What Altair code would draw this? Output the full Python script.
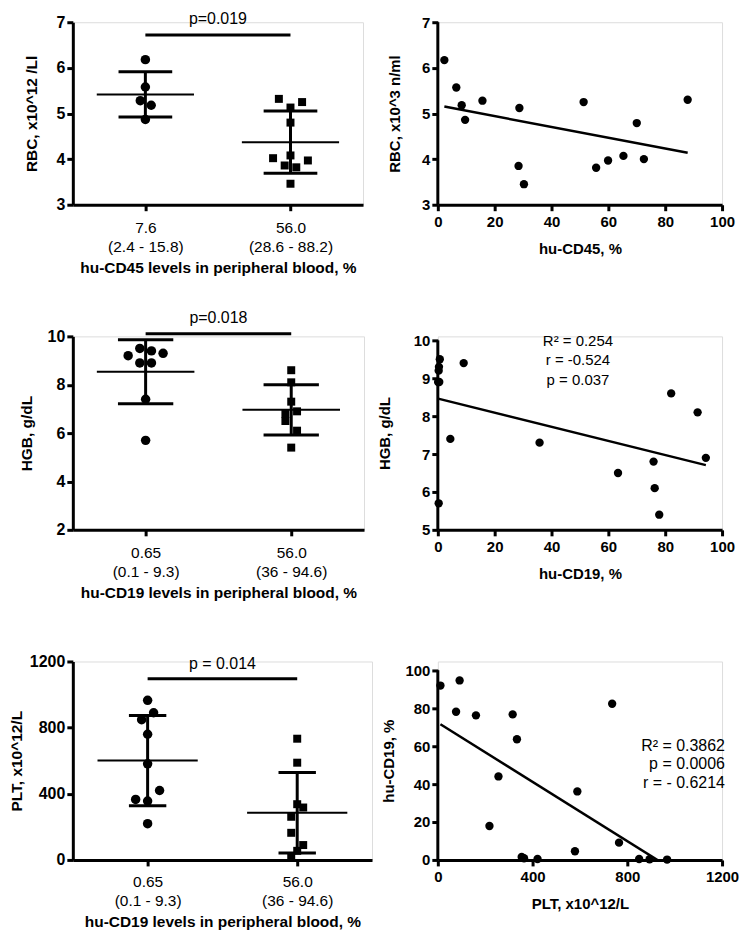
import json
import altair as alt
import pandas as pd

FONT = "Liberation Sans"
INK = "#000000"

# ---------------- data ----------------
# A: RBC by hu-CD45 group (mean +/- SD dot plot)
rbc_low = [6.18, 5.58, 5.28, 5.18, 4.87]
rbc_low_jit = [0.0, 0.0, -0.07, 0.08, 0.0]
rbc_high = [5.32, 5.25, 5.13, 4.80, 4.08, 4.02, 3.97, 3.86, 3.82, 3.46]
rbc_high_jit = [-0.16, 0.16, 0.0, 0.0, 0.0, -0.24, 0.24, -0.08, 0.08, 0.0]
cd45_groups = [["7.6", "(2.4 - 15.8)"], ["56.0", "(28.6 - 88.2)"]]

# B: RBC vs hu-CD45 scatter
cd45_pct = [2.3, 6.5, 8.4, 9.6, 15.7, 28.7, 28.4, 30.3, 51.3, 55.7, 59.9, 65.3, 70.0, 72.5, 87.9]
cd45_rbc = [6.17, 5.57, 5.18, 4.86, 5.28, 5.12, 3.85, 3.45, 5.25, 3.81, 3.97, 4.07, 4.79, 4.00, 5.30]

# C: HGB by hu-CD19 group
hgb_low = [9.2, 9.5, 9.4, 9.3, 8.9, 8.9, 7.4, 5.7]
hgb_low_jit = [-0.24, -0.08, 0.08, 0.24, -0.08, 0.08, 0.0, 0.0]
hgb_high = [8.6, 8.1, 7.3, 6.9, 6.8, 6.5, 6.1, 5.4]
hgb_high_jit = [0.0, 0.0, 0.0, 0.08, -0.08, -0.08, 0.08, 0.0]
cd19_groups = [["0.65", "(0.1 - 9.3)"], ["56.0", "(36 - 94.6)"]]

# D: HGB vs hu-CD19 scatter
cd19_pct_d = [0.7, 0.4, 0.3, 0.1, 0.5, 9.1, 4.4, 0.3, 35.8, 63.4, 75.9, 76.3, 77.9, 82.1, 91.4, 94.3]
cd19_hgb = [9.5, 9.3, 9.2, 8.9, 8.9, 9.4, 7.4, 5.7, 7.3, 6.5, 6.8, 6.1, 5.4, 8.6, 8.1, 6.9]
stats_d = ["R\u00b2 = 0.254", "r = -0.524", "p = 0.037"]

# E: PLT by hu-CD19 group
plt_low = [965, 890, 848, 760, 581, 420, 366, 356, 219]
plt_low_jit = [0.0, 0.08, -0.08, 0.0, 0.0, 0.16, -0.16, 0.0, 0.0]
plt_high = [733, 588, 337, 317, 261, 164, 90, 55, 20]
plt_high_jit = [0.0, 0.0, 0.0, 0.08, -0.08, -0.08, 0.08, 0.0, -0.08]

# F: hu-CD19 vs PLT scatter
plt_f = [11, 92, 77, 161, 316, 334, 256, 218, 736, 589, 579, 765, 354, 364, 421, 850, 894, 968]
cd19_f = [91.9, 94.6, 78.1, 76.2, 76.7, 63.6, 44.0, 17.9, 82.3, 36.1, 4.6, 9.1, 1.6, 0.9, 0.5, 0.5, 0.35, 0.2]
stats_f = ["R\u00b2 = 0.3862", "p = 0.0006", "r = - 0.6214"]

p_texts = ["p=0.019", "p=0.018", "p = 0.014"]


def dot_panel(low, low_j, high, high_j, groups, ytitle, xtitle, ydom, yticks,
              ptext, pbar_y, ptext_y, w, h, cap, ytp, xlp=10, xtp=6):
    pts = pd.DataFrame({
        "xpos": [1 + j for j in low_j] + [3 + j for j in high_j],
        "val": low + high,
        "grp": [1] * len(low) + [3] * len(high),
        "shape": ["circle"] * len(low) + ["square"] * len(high),
    })
    label_expr = "datum.value == 1 ? %s : %s" % (json.dumps(groups[0]), json.dumps(groups[1]))
    xscale = alt.Scale(domain=[0, 4], nice=False, zero=False)
    yscale = alt.Scale(domain=ydom, nice=False, zero=False)
    xaxis = alt.Axis(values=[1, 3], labelExpr=label_expr, title=xtitle, grid=False,
                     domainWidth=3, domainColor=INK, tickWidth=3, tickSize=6, tickColor=INK,
                     labelFont=FONT, labelFontSize=15.5, labelFontWeight="normal", labelColor=INK,
                     labelLineHeight=18.5, labelPadding=xlp, labelFlush=False, labelOverlap=False,
                     titleFont=FONT, titleFontSize=15.5, titleFontWeight="bold", titleColor=INK,
                     titlePadding=xtp)
    yaxis = alt.Axis(values=yticks, format="d", title=ytitle, grid=False, domainWidth=3,
                     domainColor=INK, tickWidth=3, tickSize=6, tickColor=INK, labelFont=FONT,
                     labelFontSize=16, labelFontWeight="bold", labelColor=INK, labelPadding=2,
                     titleFont=FONT, titleFontSize=15.5, titleFontWeight="bold", titleColor=INK,
                     titlePadding=ytp)

    def X(f):
        return alt.X(f, scale=xscale, axis=xaxis)

    def Y(f):
        return alt.Y(f, scale=yscale, axis=yaxis)

    base = alt.Chart(pts)
    circles = base.transform_filter("datum.shape == 'circle'").mark_point(
        shape="circle", filled=True, size=90, color=INK, opacity=1
    ).encode(x=X("xpos:Q"), y=Y("val:Q"))
    squares = base.transform_filter("datum.shape == 'square'").mark_point(
        shape="square", filled=True, size=64, color=INK, opacity=1
    ).encode(x=X("xpos:Q"), y=Y("val:Q"))

    stats = base.transform_aggregate(
        m="mean(val)", s="stdev(val)", groupby=["grp"]
    ).transform_calculate(
        lo="datum.m - datum.s", hi="datum.m + datum.s",
        cl="datum.grp - %f" % cap, cr="datum.grp + %f" % cap,
        ml="datum.grp - 0.67", mr="datum.grp + 0.67",
    )
    sd_line = stats.mark_rule(color=INK, strokeWidth=3).encode(
        x=X("grp:Q"), y=Y("lo:Q"), y2="hi:Q")
    caps = stats.transform_fold(["lo", "hi"], as_=["k", "v"]).mark_rule(
        color=INK, strokeWidth=3).encode(x=X("cl:Q"), x2="cr:Q", y=Y("v:Q"))
    mean_line = stats.mark_rule(color=INK, strokeWidth=2).encode(
        x=X("ml:Q"), x2="mr:Q", y=Y("m:Q"))

    ann = pd.DataFrame({"x1": [1], "x2": [3], "tx": [2], "by": [pbar_y], "ty": [ptext_y], "label": [ptext]})
    pbar = alt.Chart(ann).mark_rule(color=INK, strokeWidth=3).encode(
        x=X("x1:Q"), x2="x2:Q", y=Y("by:Q"))
    ptxt = alt.Chart(ann).mark_text(font=FONT, fontSize=16, color=INK, align="center",
                                    baseline="middle").encode(
        x=X("tx:Q"), y=Y("ty:Q"), text="label:N")

    return alt.layer(sd_line, caps, mean_line, circles, squares, pbar, ptxt).properties(
        width=w, height=h)


def scatter_panel(xs, ys, xtitle, ytitle, xdom, xticks, yaxis_dom, ytop, yticks,
                  stats_lines, sx, sy, align, fs, lh, w, h, ytp):
    df = pd.DataFrame({"x": xs, "y": ys})
    xscale = alt.Scale(domain=xdom, nice=False, zero=False)
    yscale = alt.Scale(domain=[yaxis_dom[0], ytop], nice=False, zero=False)
    xaxis = alt.Axis(values=xticks, format="d", title=xtitle, grid=False, domainWidth=3,
                     domainColor=INK, tickWidth=3, tickSize=6, tickColor=INK, labelFont=FONT,
                     labelFontSize=15, labelFontWeight="bold", labelColor=INK, labelPadding=4,
                     labelFlush=False, labelOverlap=False, titleFont=FONT, titleFontSize=15,
                     titleFontWeight="bold", titleColor=INK, titlePadding=12)
    yaxis = alt.Axis(values=yticks, format="d", title=ytitle, grid=False, domain=False,
                     tickWidth=3, tickSize=6, tickColor=INK, labelFont=FONT, labelFontSize=15,
                     labelFontWeight="bold", labelColor=INK, labelPadding=2,
                     titleFont=FONT, titleFontSize=15, titleFontWeight="bold", titleColor=INK,
                     titlePadding=ytp)

    def X(f):
        return alt.X(f, scale=xscale, axis=xaxis)

    def Y(f):
        return alt.Y(f, scale=yscale, axis=yaxis)

    pts = alt.Chart(df).mark_circle(size=70, color=INK, opacity=1).encode(x=X("x:Q"), y=Y("y:Q"))
    reg = alt.Chart(df).transform_regression("x", "y").mark_line(
        color=INK, strokeWidth=2.5, clip=True).encode(x=X("x:Q"), y=Y("y:Q"))
    axdf = pd.DataFrame({"y0": [yaxis_dom[0]], "y1": [yaxis_dom[1]]})
    axline = alt.Chart(axdf).mark_rule(color=INK, strokeWidth=3).encode(
        x=alt.value(0), y=Y("y0:Q"), y2="y1:Q")
    layers = [axline, reg, pts]
    if stats_lines:
        sdf = pd.DataFrame({"t": ["\n".join(stats_lines)], "sx": [sx], "sy": [sy]})
        txt = alt.Chart(sdf).mark_text(font=FONT, fontSize=fs, color=INK, align=align,
                                       baseline="top", lineBreak="\n", lineHeight=lh).encode(
            x=X("sx:Q"), y=Y("sy:Q"), text="t:N")
        layers.append(txt)
    return alt.layer(*layers).properties(width=w, height=h)


H1, H2, H3 = 183, 194, 199

pA = dot_panel(rbc_low, rbc_low_jit, rbc_high, rbc_high_jit, cd45_groups,
               "RBC, x10^12 /Ll", "hu-CD45 levels in peripheral blood, %",
               [3, 7], [3, 4, 5, 6, 7], p_texts[0], 6.72, 7.08, 291, H1, 0.37, 17)
pB = scatter_panel(cd45_pct, cd45_rbc, "hu-CD45, %", "RBC, x10^3 n/ml",
                   [0, 100], [0, 20, 40, 60, 80, 100], [3, 7], 7, [3, 4, 5, 6, 7],
                   [], 0, 0, "center", 15, 19, 285, H1, 19)
pC = dot_panel(hgb_low, hgb_low_jit, hgb_high, hgb_high_jit, cd19_groups,
               "HGB, g/dL", "hu-CD19 levels in peripheral blood, %",
               [2, 10], [2, 4, 6, 8, 10], p_texts[1], 10.11, 10.75, 292, H2, 0.38, 13)
pD = scatter_panel(cd19_pct_d, cd19_hgb, "hu-CD19, %", "HGB, g/dL",
                   [0, 100], [0, 20, 40, 60, 80, 100], [5, 10], 10.105, [5, 6, 7, 8, 9, 10],
                   stats_d, 49.3, 10.16, "center", 15, 19.3, 285, H2, 21)
pE = dot_panel(plt_low, plt_low_jit, plt_high, plt_high_jit, cd19_groups,
               "PLT, x10^12/L", "hu-CD19 levels in peripheral blood, %",
               [0, 1200], [0, 400, 800, 1200], p_texts[2], 1095, 1186, 300, H3, 0.25, 5,
               xlp=9, xtp=6)
pF = scatter_panel(plt_f, cd19_f, "PLT, x10^12/L", "hu-CD19, %",
                   [0, 1200], [0, 400, 800, 1200], [0, 100], 104.6, [0, 20, 40, 60, 80, 100],
                   stats_f, 1212, 64.5, "right", 16, 18.7, 285, H3, 8)

chart = alt.concat(pA, pB, pC, pD, pE, pF, columns=2, bounds="flush",
                   spacing={"row": 132, "column": 66}).properties(
    padding={"left": 0, "top": 0, "right": 0, "bottom": 0}
).configure_view(stroke=None).configure(background="white")

chart.save("out.html", embed_options={"renderer": "svg", "actions": False})
